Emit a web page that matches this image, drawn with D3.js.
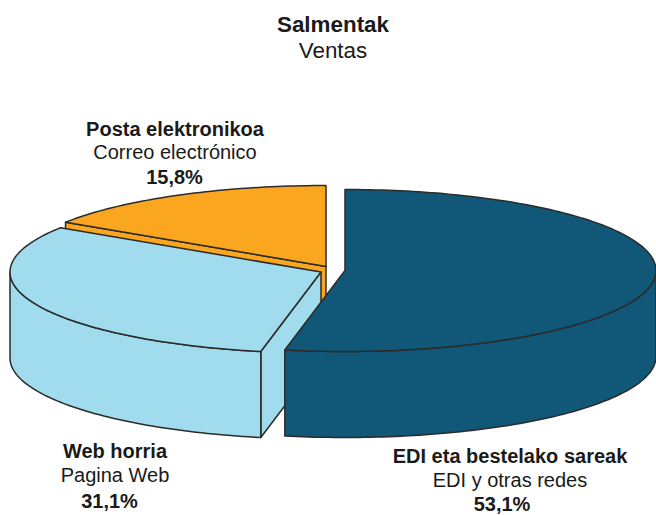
<!DOCTYPE html>
<html><head><meta charset="utf-8">
<script src="https://cdn.jsdelivr.net/npm/d3@7"></script>
<style>html,body{margin:0;padding:0;background:#fff}svg{display:block}text{font-family:"Liberation Sans",Arial,sans-serif;fill:#1a1a1a;text-anchor:middle}</style>
</head><body><svg id="c" width="656" height="515"></svg>
<script>
const titleLines = ["Salmentak", "Ventas"];
const categories = ["EDI eta bestelako sareak", "Web horria", "Posta elektronikoa"];
const subLabels = ["EDI y otras redes", "Pagina Web", "Correo electrónico"];
const percentLabels = ["53,1%", "31,1%", "15,8%"];
const values = [53.1, 31.1, 15.8];
const colors = ["#115777", "#a0dbee", "#fba61f"];

const svg = d3.select("#c");
const rx = 311, ry = 81, depth = 86;
const centers = [[345, 270.5], [321, 272], [326, 266.5]];
const labelX = [510, 115, 175];
const percentX = [502, 109.5, 174.5];
const labelY = [[463, 487, 510.5], [458, 482, 508], [136, 159, 184]];
const stroke = "#2b2b2b", sw = 1.5;

const arcs = d3.pie().sort(null).value(d => d).startAngle(0).endAngle(2 * Math.PI)(values);
const line = d3.line();
const pt = (c, a, dy = 0) => [c[0] + rx * Math.sin(a), c[1] - ry * Math.cos(a) + dy];
const rim = (c, a0, a1, dy = 0) => {
  const n = Math.max(2, Math.ceil(Math.abs(a1 - a0) / 0.02));
  return d3.range(n + 1).map(i => pt(c, a0 + (a1 - a0) * i / n, dy));
};
const path = (pts, fill) => svg.append("path")
  .attr("d", line(pts) + "Z")
  .attr("fill", fill).attr("stroke", stroke).attr("stroke-width", sw).attr("stroke-linejoin", "round");

// drawn back to front: orange, blue, navy
[2, 1, 0].forEach(i => {
  const a = arcs[i], c = centers[i], col = colors[i];
  const s = a.startAngle, e = a.endAngle;
  const apexB = [c[0], c[1] + depth];
  // cut faces, only where they face the viewer
  if (Math.sin(s) < -1e-9) path([c, pt(c, s), pt(c, s, depth), apexB], col);
  if (Math.sin(e) > 1e-9) path([c, pt(c, e), pt(c, e, depth), apexB], col);
  // outer wall: only the front half of the ellipse shows
  const w0 = Math.max(s, Math.PI / 2), w1 = Math.min(e, 3 * Math.PI / 2);
  if (w1 > w0) path(rim(c, w0, w1).concat(rim(c, w1, w0, depth)), col);
  // top face
  path([c].concat(rim(c, s, e)), col);
});

svg.append("text").attr("x", 333).attr("y", 32).attr("font-size", 22.4).attr("font-weight", "bold").text(titleLines[0]);
svg.append("text").attr("x", 333).attr("y", 58).attr("font-size", 22.4).text(titleLines[1]);
categories.forEach((name, i) => {
  svg.append("text").attr("x", labelX[i]).attr("y", labelY[i][0]).attr("font-size", 20).attr("font-weight", "bold").text(name);
  svg.append("text").attr("x", labelX[i]).attr("y", labelY[i][1]).attr("font-size", 20).text(subLabels[i]);
  svg.append("text").attr("x", percentX[i]).attr("y", labelY[i][2]).attr("font-size", 20).attr("font-weight", "bold").text(percentLabels[i]);
});
</script></body></html>
